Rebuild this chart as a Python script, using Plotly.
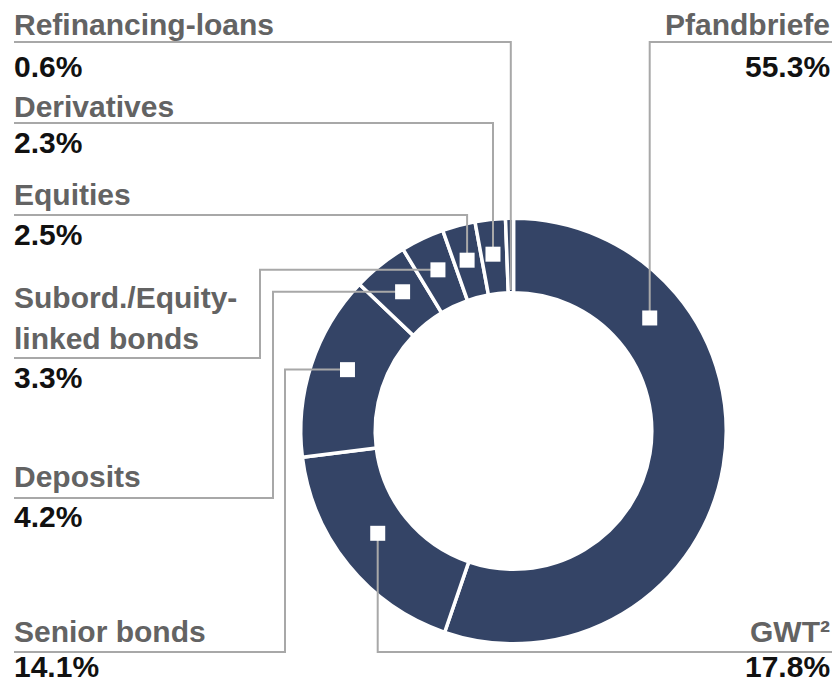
import math
import plotly.graph_objects as go

# ---------------- data ----------------
categories = ["Pfandbriefe", "GWT", "Senior bonds", "Deposits",
              "Subord./Equity-linked bonds", "Equities", "Derivatives", "Refinancing-loans"]
shares = [55.3, 17.8, 14.1, 4.2, 3.3, 2.5, 2.3, 0.6]
name_lines = [["Pfandbriefe"], ["GWT²"], ["Senior bonds"], ["Deposits"],
              ["Subord./Equity-", "linked bonds"], ["Equities"], ["Derivatives"],
              ["Refinancing-loans"]]
value_labels = [f"{v:.1f}%" for v in shares]

# ---------------- layout / style ----------------
W, H = 833, 684
CX, CY = 513.5, 431.0
R_OUT = 212.75
HOLE = 0.65
SLICE_COLOR = "#344466"
NAME_COLOR = "#636363"
VALUE_COLOR = "#111111"
LEADER_COLOR = "#a8a8a8"
FONT = "Liberation Sans, Arial, sans-serif"
FS = 30
ASC_SHIFT = 0.3465 * FS  # baseline -> box centre

label_layout = {
    "Pfandbriefe": dict(side="right", name_base=[35], value_base=77, line_y=42,
                        elbow_x=None, frac=0.253, radius=177, marker=True),
    "GWT": dict(side="right", name_base=[642], value_base=677, line_y=652,
                elbow_x=None, frac=0.533, radius=170, marker=True),
    "Senior bonds": dict(side="left", name_base=[642], value_base=677, line_y=652,
                         elbow_x=285, frac=0.54, radius=177, marker=True),
    "Deposits": dict(side="left", name_base=[487], value_base=527, line_y=498,
                     elbow_x=273, frac=0.52, radius=178, marker=True),
    "Subord./Equity-linked bonds": dict(side="left", name_base=[308, 349], value_base=388,
                                        line_y=358, elbow_x=260, frac=0.52, radius=178,
                                        marker=True),
    "Equities": dict(side="left", name_base=[205], value_base=245, line_y=215,
                     elbow_x=None, frac=0.47, radius=177, marker=True),
    "Derivatives": dict(side="left", name_base=[117], value_base=153, line_y=123,
                        elbow_x=None, frac=0.46, radius=178, marker=True),
    "Refinancing-loans": dict(side="left", name_base=[35], value_base=77, line_y=42,
                              elbow_x=None, frac=0.5, radius=141, marker=False),
}
LEFT_X, RIGHT_X = 14, 832
MARK = 15

fig = go.Figure()

fig.add_trace(go.Pie(
    labels=categories, values=shares, sort=False, direction="clockwise", rotation=0,
    hole=HOLE, textinfo="none", hoverinfo="skip", showlegend=False,
    marker=dict(colors=[SLICE_COLOR] * len(shares), line=dict(color="white", width=3.5)),
    domain=dict(x=[(CX - R_OUT) / W, (CX + R_OUT) / W],
                y=[1 - (CY + R_OUT) / H, 1 - (CY - R_OUT) / H]),
))

# invisible trace to instantiate the overlay pixel axes
fig.add_trace(go.Scatter(x=[0], y=[0], mode="markers", marker=dict(opacity=0),
                         hoverinfo="skip", showlegend=False))

total = sum(shares)
cum = 0.0
shapes = []
annotations = []
for cat, v, lines, vlab in zip(categories, shares, name_lines, value_labels):
    spec = label_layout[cat]
    ang = 2 * math.pi * (cum + spec["frac"] * v) / total
    cum += v
    mx = CX + spec["radius"] * math.sin(ang)
    my = CY - spec["radius"] * math.cos(ang)
    sx = LEFT_X if spec["side"] == "left" else RIGHT_X
    if spec["elbow_x"] is None:
        path = f"M{sx},{spec['line_y']} H{mx:.1f} V{my:.1f}"
    else:
        path = f"M{sx},{spec['line_y']} H{spec['elbow_x']} V{my:.1f} H{mx:.1f}"
    shapes.append(dict(type="path", path=path, xref="x", yref="y", layer="above",
                       line=dict(color=LEADER_COLOR, width=2)))
    if spec["marker"]:
        shapes.append(dict(type="rect", xref="x", yref="y", layer="above",
                           x0=mx - MARK / 2, x1=mx + MARK / 2,
                           y0=my - MARK / 2, y1=my + MARK / 2,
                           fillcolor="white", line=dict(width=0)))
    ax = 13 if spec["side"] == "left" else 831
    xanchor = "left" if spec["side"] == "left" else "right"
    for txt, base in zip(lines, spec["name_base"]):
        annotations.append(dict(text=txt, x=ax, y=base - ASC_SHIFT, xref="x", yref="y",
                                xanchor=xanchor, yanchor="middle", showarrow=False,
                                borderpad=0,
                                font=dict(family=FONT, size=FS, color=NAME_COLOR,
                                          weight="bold")))
    annotations.append(dict(text=vlab, x=ax, y=spec["value_base"] - ASC_SHIFT,
                            xref="x", yref="y", xanchor=xanchor, yanchor="middle",
                            showarrow=False, borderpad=0,
                            font=dict(family=FONT, size=FS, color=VALUE_COLOR,
                                      weight="bold")))

fig.update_layout(
    width=W, height=H, margin=dict(l=0, r=0, t=0, b=0, pad=0),
    paper_bgcolor="white", plot_bgcolor="rgba(0,0,0,0)", showlegend=False,
    xaxis=dict(range=[0, W], visible=False, fixedrange=True),
    yaxis=dict(range=[H, 0], visible=False, fixedrange=True),
    shapes=shapes, annotations=annotations,
)

fig.write_html("out.html", config={"displayModeBar": False},
               post_script="document.body.style.margin='0';"
                           "document.body.style.overflow='hidden';")
